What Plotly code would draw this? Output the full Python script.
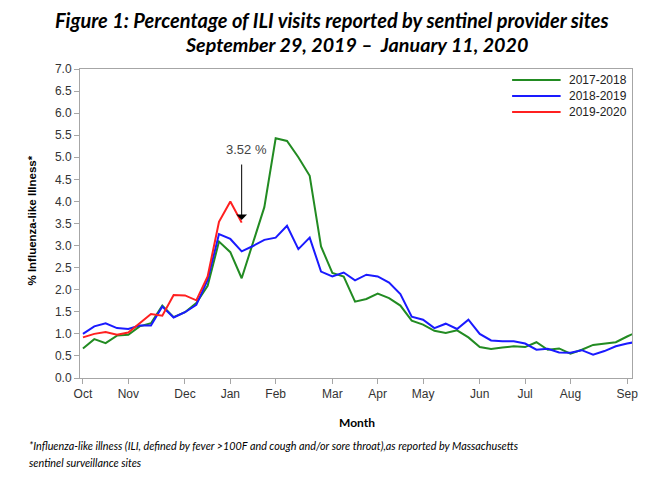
import plotly.graph_objects as go

# week index 0 = first week of October (MMWR week 40)
weeks = list(range(50))

ili_2017_2018 = [0.67, 0.88, 0.79, 0.96, 0.98, 1.17, 1.24, 1.64, 1.38, 1.49,
                 1.70, 2.09, 3.09, 2.85, 2.26, 3.05, 3.87, 5.43, 5.37, 5.00,
                 4.58, 2.98, 2.38, 2.30, 1.73, 1.79, 1.91, 1.81, 1.64, 1.30,
                 1.21, 1.07, 1.02, 1.08, 0.92, 0.70, 0.66, 0.69, 0.72, 0.70,
                 0.81, 0.64, 0.67, 0.55, 0.64, 0.75, 0.78, 0.81, 0.94, 1.06]

ili_2018_2019 = [1.00, 1.17, 1.24, 1.13, 1.11, 1.19, 1.19, 1.62, 1.37, 1.49,
                 1.66, 2.22, 3.26, 3.15, 2.87, 2.99, 3.13, 3.18, 3.45, 2.92,
                 3.18, 2.41, 2.30, 2.39, 2.21, 2.34, 2.30, 2.16, 1.90, 1.39,
                 1.32, 1.13, 1.23, 1.11, 1.32, 1.00, 0.85, 0.83, 0.83, 0.78,
                 0.64, 0.66, 0.58, 0.57, 0.63, 0.53, 0.61, 0.72, 0.78, 0.83]

ili_2019_2020 = [0.92, 1.00, 1.04, 0.98, 1.03, 1.24, 1.45, 1.41, 1.88, 1.87,
                 1.76, 2.30, 3.54, 4.00, 3.52]

month_ticks = [0, 4, 9, 13, 17, 22, 26, 30, 35, 39, 43, 48]
month_labels = ["Oct", "Nov", "Dec", "Jan", "Feb", "Mar", "Apr", "May",
                "Jun", "Jul", "Aug", "Sep"]
y_ticks = [0.0, 0.5, 1.0, 1.5, 2.0, 2.5, 3.0, 3.5, 4.0, 4.5, 5.0, 5.5, 6.0, 6.5, 7.0]

series = [
    ("2017-2018", ili_2017_2018, "#228b22"),
    ("2018-2019", ili_2018_2019, "#1a1aff"),
    ("2019-2020", ili_2019_2020, "#ff2020"),
]

fig = go.Figure()
for name, vals, col in series:
    fig.add_trace(go.Scatter(x=weeks[:len(vals)], y=vals, name=name, mode="lines",
                             line=dict(color=col, width=2), showlegend=False))

# legend drawn by hand so the swatches and row spacing match the original
leg_y = [0.9644, 0.9126, 0.8608]
for (name, vals, col), yy in zip(series, leg_y):
    fig.add_shape(type="line", xref="paper", yref="paper", x0=0.7828, x1=0.8707,
                  y0=yy, y1=yy, line=dict(color=col, width=2))
    fig.add_annotation(text=name, xref="paper", yref="paper", x=0.8815, y=yy,
                       xanchor="left", yanchor="middle", showarrow=False,
                       font=dict(family="Liberation Sans", size=12, color="#222222"))

axis_col = "#a6a6a6"
fig.update_xaxes(range=[-0.26, 48.43], tickvals=month_ticks, ticktext=month_labels,
                 showline=True, linecolor=axis_col, mirror=True, ticks="outside",
                 tickcolor=axis_col, ticklen=5, showgrid=False, zeroline=False,
                 tickfont=dict(family="Liberation Sans", size=12, color="#333333"))
fig.update_yaxes(range=[0, 7], tickvals=y_ticks, tickformat=".1f",
                 showline=True, linecolor=axis_col, mirror=True, ticks="outside",
                 tickcolor=axis_col, ticklen=5, showgrid=False, zeroline=False,
                 tickfont=dict(family="Liberation Sans", size=12, color="#333333"))

# titles and notes
fig.add_annotation(text="<b><i>Figure 1: Percentage of ILI visits reported by sentinel provider sites</i></b>",
                   xref="paper", yref="paper", x=0.456, y=1.159, xanchor="center", yanchor="middle",
                   showarrow=False, font=dict(family="Lato", size=20, color="black"))
fig.add_annotation(text="<b><i>September 29, 2019 \u2013  January 11, 2020</i></b>",
                   xref="paper", yref="paper", x=0.501, y=1.078, xanchor="center", yanchor="middle",
                   showarrow=False, font=dict(family="Lato", size=19.7, color="black"))
fig.add_annotation(text="<b>Month</b>", xref="paper", yref="paper", x=0.501, y=-0.1456,
                   xanchor="center", yanchor="middle", showarrow=False,
                   font=dict(family="Lato", size=12, color="black"))
fig.add_annotation(text="<b>% Influenza-like Illness*</b>", xref="paper", yref="paper",
                   x=-0.0862, y=0.511, xanchor="center", yanchor="middle", textangle=-90,
                   showarrow=False,
                   font=dict(family="Liberation Sans Narrow, Liberation Sans", size=11.5, color="black"))
fig.add_annotation(text="<i>*Influenza-like illness (ILI, defined by fever >100F and cough and/or sore throat),as reported by Massachusetts</i>",
                   xref="paper", yref="paper", x=-0.0952, y=-0.220, xanchor="left", yanchor="middle",
                   showarrow=False, font=dict(family="Lato", size=10.8, color="black"))
fig.add_annotation(text="<i>sentinel surveillance sites</i>",
                   xref="paper", yref="paper", x=-0.0952, y=-0.275, xanchor="left", yanchor="middle",
                   showarrow=False, font=dict(family="Lato", size=10.8, color="black"))

# callout for latest week
fig.add_annotation(x=14, y=3.58, ax=14, ay=4.87, axref="x", ayref="y", text="",
                   showarrow=True, arrowhead=1, arrowsize=1.8, arrowwidth=1, arrowcolor="black")
fig.add_annotation(x=14.45, y=5.17, text="3.52 %", showarrow=False,
                   xanchor="center", yanchor="middle",
                   font=dict(family="Liberation Sans", size=13, color="#444444"))

# page body has an 8px margin, so the figure is 8px smaller each way
fig.update_layout(
    width=642, height=476,
    margin=dict(l=72, r=13, t=61, b=106),
    paper_bgcolor="white", plot_bgcolor="white",
)

fig.write_html("out.html")
